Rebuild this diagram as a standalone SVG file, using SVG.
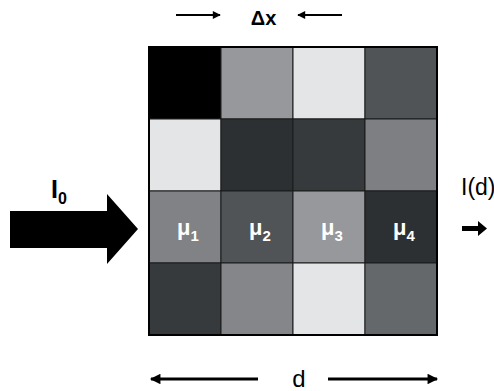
<svg xmlns="http://www.w3.org/2000/svg" width="494" height="391" viewBox="0 0 494 391">
<defs>
<style>
.t{font-family:"Liberation Sans",Arial,sans-serif;fill:#000;font-weight:bold;}
.n{font-family:"Liberation Sans",Arial,sans-serif;fill:#000;font-weight:normal;}
.mu{font-family:"Liberation Sans",Arial,sans-serif;fill:#fff;font-size:22px;font-weight:bold;text-anchor:middle;}
.ln{stroke:#000;fill:none;}
</style>
<marker id="ah2" viewBox="0 0 10 10" refX="9" refY="5" markerWidth="4" markerHeight="3.5" orient="auto" markerUnits="strokeWidth">
<path d="M0,0 L10,5 L0,10 Z" fill="#000"/>
</marker>
<marker id="ah1" viewBox="0 0 10 10" refX="9" refY="5" markerWidth="5" markerHeight="4" orient="auto" markerUnits="strokeWidth">
<path d="M0,0 L10,5 L0,10 Z" fill="#000"/>
</marker>
</defs>
<rect width="494" height="391" fill="#fff"/>
<g id="grid" stroke="#1a1a1a" stroke-width="1">
<rect x="149" y="47" width="72" height="72" fill="#000000"/>
<rect x="221" y="47" width="72" height="72" fill="#96989b"/>
<rect x="293" y="47" width="72" height="72" fill="#e4e5e7"/>
<rect x="365" y="47" width="72" height="72" fill="#505457"/>
<rect x="149" y="119" width="72" height="72" fill="#e4e5e7"/>
<rect x="221" y="119" width="72" height="72" fill="#2d3033"/>
<rect x="293" y="119" width="72" height="72" fill="#373a3d"/>
<rect x="365" y="119" width="72" height="72" fill="#7d7f83"/>
<rect x="149" y="191" width="72" height="72" fill="#808285"/>
<rect x="221" y="191" width="72" height="72" fill="#505457"/>
<rect x="293" y="191" width="72" height="72" fill="#96989b"/>
<rect x="365" y="191" width="72" height="72" fill="#2d3033"/>
<rect x="149" y="263" width="72" height="72" fill="#373a3d"/>
<rect x="221" y="263" width="72" height="72" fill="#848689"/>
<rect x="293" y="263" width="72" height="72" fill="#e4e5e7"/>
<rect x="365" y="263" width="72" height="72" fill="#65686b"/>
<rect x="149" y="47" width="288" height="288" fill="none" stroke="#000" stroke-width="2"/>
</g>
<g id="labels-mu">
<text class="mu" x="188" y="235">μ<tspan font-size="15" dy="6">1</tspan></text>
<text class="mu" x="260" y="235">μ<tspan font-size="15" dy="6">2</tspan></text>
<text class="mu" x="332" y="235">μ<tspan font-size="15" dy="6">3</tspan></text>
<text class="mu" x="404" y="235">μ<tspan font-size="15" dy="6">4</tspan></text>
</g>
<g id="input-beam">
<polygon points="10,211 107,211 107,194 138,229 107,264 107,248 10,248" fill="#000"/>
<text class="t" x="51" y="198" font-size="25">I<tspan font-size="16" dy="6">0</tspan></text>
</g>
<g id="output-beam">
<text class="n" x="461" y="195" font-size="23">I(d)</text>
<polygon points="462,226 478,226 478,221 487,228.5 478,236 478,231 462,231" fill="#000"/>
</g>
<g id="connectors">
<line class="ln" x1="176" y1="15" x2="220" y2="15" stroke-width="2" marker-end="url(#ah1)"/>
<line class="ln" x1="342" y1="15" x2="298" y2="15" stroke-width="2" marker-end="url(#ah1)"/>
<line class="ln" x1="258" y1="379" x2="151" y2="379" stroke-width="3" marker-end="url(#ah2)"/>
<line class="ln" x1="328" y1="379" x2="437" y2="379" stroke-width="3" marker-end="url(#ah2)"/>
</g>
<g id="dim-labels">
<text class="t" x="263.5" y="25" font-size="20" text-anchor="middle">Δx</text>
<text class="n" x="299" y="387" font-size="24" text-anchor="middle">d</text>
</g>
</svg>
